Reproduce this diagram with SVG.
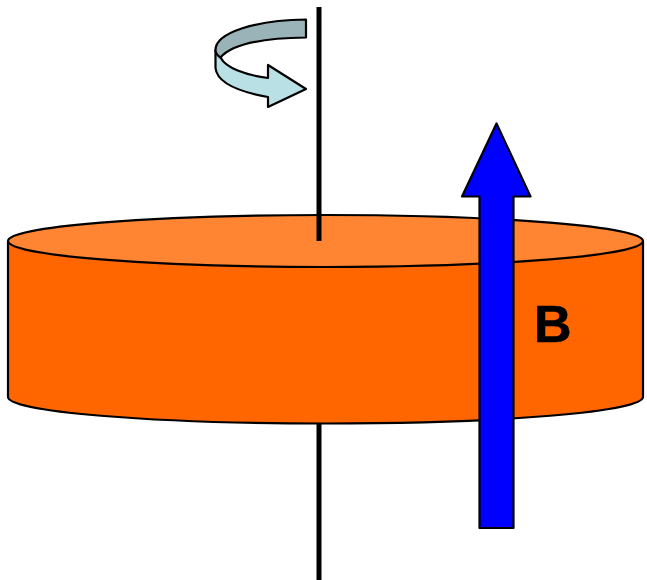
<svg xmlns="http://www.w3.org/2000/svg" width="647" height="580" viewBox="0 0 647 580">
  <style>
    .o { stroke: #000; stroke-width: 2.200; stroke-linejoin: round; }
    .axis { stroke: #000; stroke-width: 5; fill: none; }
  </style>
  <rect width="647" height="580" fill="#fff"/>
  <g id="axis-lower"><line class="axis" x1="319" y1="423" x2="319" y2="580"/></g>
  <g id="cylinder">
    <path class="o" fill="#ff6600" d="M8 241V397A317.500 26.500 0 0 0 643 397V241Z"/>
    <ellipse class="o" fill="#ff8533" cx="325.500" cy="241" rx="317.500" ry="26"/>
  </g>
  <g id="axis-upper"><line class="axis" x1="319" y1="7" x2="319" y2="241"/></g>
  <g id="rotation-arrow">
    <path class="o" fill="#b9e0e5" d="M215.500 50V68C217 83 240 92 268 97V107L306 89L268 65V78C245 75 226 68 220.500 57.500C218 55 216 53 215.500 50Z"/>
    <path class="o" fill="#9ab3b8" d="M306 19.500V37.500C265 38 232 44 220.500 57.500C217.500 55.500 215.500 53 215.500 50C215.500 33 255 20 306 19.500Z"/>
  </g>
  <g id="field-arrow">
    <path class="o" fill="#0000ff" d="M496.500 123.500L530.500 196.500H513.500V528H479.500V196.500H462Z"/>
  </g>
  <g id="label-b">
    <text x="534" y="342" font-family="Liberation Sans, Arial, sans-serif" font-weight="bold" font-size="52" fill="#000" stroke="#000" stroke-width="0.600">B</text>
  </g>
</svg>
